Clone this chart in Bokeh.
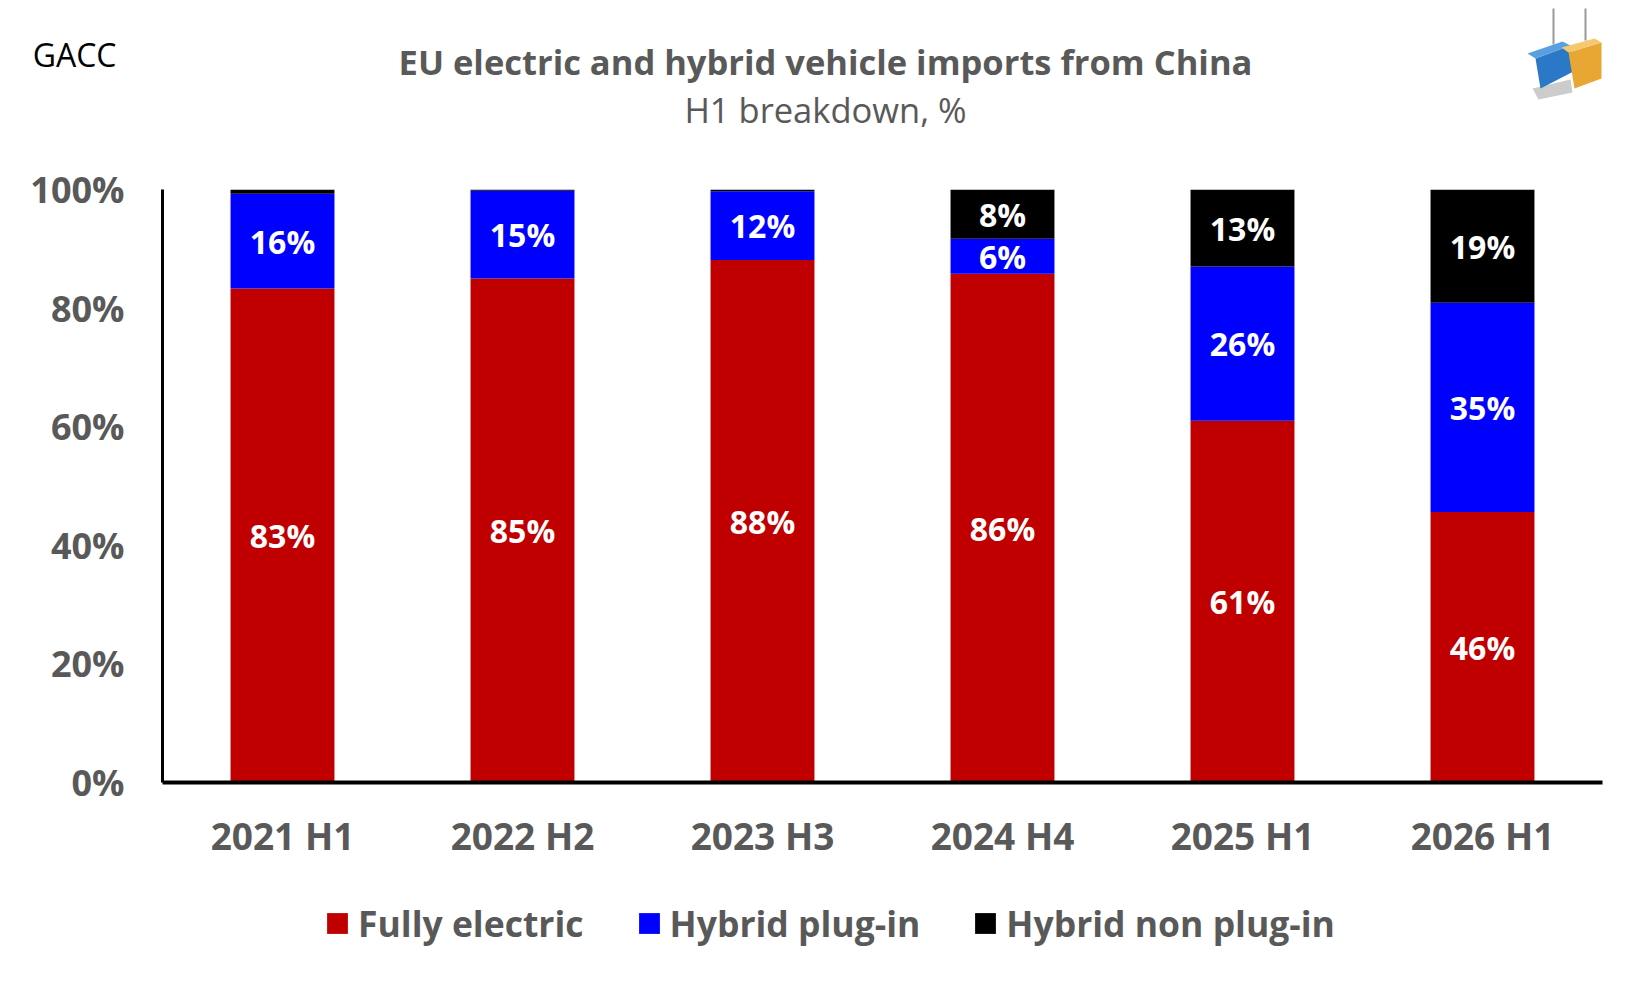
from bokeh.plotting import figure
from bokeh.layouts import column
from bokeh.models import (ColumnDataSource, FactorRange, Range1d, FixedTicker,
                          PrintfTickFormatter, Legend, LegendItem, LinearAxis)
from bokeh.core.properties import value
from bokeh.embed import file_html
from bokeh.resources import INLINE

# ---- data ----
categories = ["2021 H1", "2022 H2", "2023 H3", "2024 H4", "2025 H1", "2026 H1"]
fully_electric = [83.3, 85.0, 88.1, 85.8, 61.0, 45.6]
hybrid_plugin = [16.0, 14.8, 11.6, 5.9, 26.0, 35.3]
hybrid_non_plugin = [0.7, 0.2, 0.3, 8.3, 13.0, 19.1]
series_names = ["Fully electric", "Hybrid plug-in", "Hybrid non plug-in"]
y_ticks = [0, 20, 40, 60, 80, 100]
title_text = "EU electric and hybrid vehicle imports from China"
subtitle_text = "H1 breakdown, %"
source_text = "GACC"

colors = ["#C00000", "#0000FF", "#000000"]
GRAY = "#595959"
FONT = "Open Sans"

W = 1640
FL, FR = 162, 1602          # frame left/right (canvas px)
HH = 150                    # header height
MH = 717                    # main figure height
FH = 113                    # footer (legend) height
FT, FB = 189 - HH, 782 - HH  # frame top/bottom inside main figure


def bare(fig):
    fig.outline_line_color = None
    fig.xgrid.visible = False
    fig.ygrid.visible = False
    return fig


# ---------------- header (titles + logo) ----------------
hdr = bare(figure(width=W, height=HH, x_range=Range1d(FL, FR), y_range=Range1d(HH, 0),
                  output_backend="svg", toolbar_location=None,
                  min_border_left=FL, min_border_right=W - FR,
                  min_border_top=0, min_border_bottom=0,
                  x_axis_location=None, y_axis_location=None))

hdr.text(x=[825], y=[61], text=[title_text], text_font=value(FONT),
         text_font_style="bold", text_font_size="34.5px", text_color=GRAY,
         text_align="center", text_baseline="middle")
hdr.text(x=[825], y=[109], text=[subtitle_text], text_font=value(FONT),
         text_font_size="34.5px", text_color=GRAY, text_align="center",
         text_baseline="middle")

# source note, rendered as the single label of a bare axis left of the frame
src_axis = LinearAxis(ticker=FixedTicker(ticks=[54]),
                      major_label_overrides={54: source_text},
                      axis_line_color=None, major_tick_line_color=None,
                      minor_tick_line_color=None, major_label_standoff=40,
                      major_label_text_font=FONT, major_label_text_font_size="32px",
                      major_label_text_color="black")
hdr.add_layout(src_axis, "left")

# simple logo approximation (two hanging containers)
logo_xs = [
    [1532, 1570, 1572, 1538],
    [1535, 1570, 1573, 1540],
    [1535, 1570, 1562, 1527],
    [1568, 1601, 1601, 1574],
    [1568, 1601, 1594, 1561],
]
logo_ys = [
    [88, 79, 92, 99],
    [58, 45, 71, 88],
    [58, 45, 41, 53],
    [52, 42, 78, 88],
    [52, 42, 38, 47],
]
logo_cols = ["#CCCCCC", "#2A78C6", "#5AA0E0", "#E8A632", "#F5C870"]
hdr.patches(xs=logo_xs, ys=logo_ys, fill_color=logo_cols, line_color=None)
hdr.segment(x0=[1553, 1585], y0=[8, 8], x1=[1553, 1585], y1=[44, 40],
            line_color="#999999", line_width=2)

# ---------------- main chart ----------------
source = ColumnDataSource(dict(cat=categories, fe=fully_electric,
                               hp=hybrid_plugin, hn=hybrid_non_plugin))

p = bare(figure(width=W, height=MH, x_range=FactorRange(*categories, range_padding=0),
                y_range=Range1d(0, 100), output_backend="svg", toolbar_location=None,
                min_border_left=FL, min_border_right=W - FR, min_border_top=FT,
                min_border_bottom=MH - FB))

rs = p.vbar_stack(["fe", "hp", "hn"], x="cat", width=0.433, color=colors,
                  line_color=None, source=source)

# data labels
lx, ly, lt = [], [], []
for i, c in enumerate(categories):
    base = 0.0
    for v in (fully_electric[i], hybrid_plugin[i], hybrid_non_plugin[i]):
        if v >= 5:
            lx.append(c)
            ly.append(base + v / 2)
            lt.append(f"{round(v)}%")
        base += v
p.text(x=lx, y=ly, text=lt, text_color="white", text_font=value(FONT),
       text_font_style="bold", text_font_size="32px", text_align="center",
       text_baseline="middle")

# axes
p.yaxis.ticker = FixedTicker(ticks=y_ticks)
p.yaxis.formatter = PrintfTickFormatter(format="%d%%")
p.yaxis.axis_line_width = 3
p.yaxis.axis_line_color = "black"
p.yaxis.major_tick_line_color = None
p.yaxis.minor_tick_line_color = None
p.yaxis.major_label_text_font = FONT
p.yaxis.major_label_text_font_style = "bold"
p.yaxis.major_label_text_font_size = "36px"
p.yaxis.major_label_text_color = GRAY
p.yaxis.major_label_standoff = 32

p.xaxis.axis_line_width = 4
p.xaxis.axis_line_color = "black"
p.xaxis.major_tick_line_color = None
p.xaxis.minor_tick_line_color = None
p.xaxis.major_label_text_font = FONT
p.xaxis.major_label_text_font_style = "bold"
p.xaxis.major_label_text_font_size = "37px"
p.xaxis.major_label_text_color = GRAY
p.xaxis.major_label_standoff = 21

# ---------------- footer (legend) ----------------
# legend swatches come from the same stacked series; in this strip they have zero
# width and lie far outside its view, so only the swatches show
ftr = bare(figure(width=W, height=FH, x_range=FactorRange(*categories, range_padding=0),
                  y_range=Range1d(1e6, 1e6 + 1), output_backend="svg", toolbar_location=None,
                  min_border_left=FL, min_border_right=W - FR,
                  min_border_top=0, min_border_bottom=0,
                  x_axis_location=None, y_axis_location=None))
proxies = ftr.vbar_stack(["fe", "hp", "hn"], x="cat", width=0, color=colors,
                         line_color=None, source=source)
legend = Legend(items=[LegendItem(label=n, renderers=[r]) for n, r in zip(series_names, proxies)],
                orientation="horizontal", location=(162, 33),
                glyph_width=26, glyph_height=26, label_standoff=8, spacing=52,
                padding=0, margin=0, border_line_color=None,
                background_fill_alpha=0, label_text_font=FONT,
                label_text_font_style="bold", label_text_font_size="35.5px",
                label_text_color=GRAY)
ftr.add_layout(legend, "center")

open("out.html", "w").write(file_html(column(hdr, p, ftr, spacing=0), INLINE))
